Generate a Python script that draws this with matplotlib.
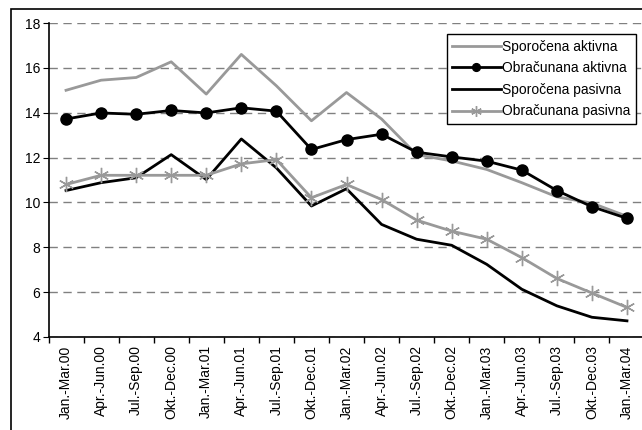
import matplotlib
matplotlib.use("Agg")
import matplotlib.pyplot as plt
from matplotlib.patches import Rectangle

plt.rcParams['font.family'] = ['Liberation Sans', 'DejaVu Sans']

# Quarter labels
quarters = ['Jan.-Mar.00', 'Apr.-Jun.00', 'Jul.-Sep.00', 'Okt.-Dec.00',
            'Jan.-Mar.01', 'Apr.-Jun.01', 'Jul.-Sep.01', 'Okt.-Dec.01',
            'Jan.-Mar.02', 'Apr.-Jun.02', 'Jul.-Sep.02', 'Okt.-Dec.02',
            'Jan.-Mar.03', 'Apr.-Jun.03', 'Jul.-Sep.03', 'Okt.-Dec.03',
            'Jan.-Mar.04']

# Series values
sporocena_aktivna = [15.0, 15.45, 15.57, 16.27, 14.83, 16.6, 15.2, 13.64,
                     14.9, 13.72, 12.13, 11.85, 11.47, 10.88, 10.25, 9.97, 9.38]
obracunana_aktivna = [13.72, 13.99, 13.93, 14.1, 13.99, 14.22, 14.07, 12.36,
                      12.8, 13.04, 12.24, 12.03, 11.84, 11.44, 10.53, 9.81, 9.29]
sporocena_pasivna = [10.53, 10.88, 11.1, 12.13, 11.02, 12.83, 11.54, 9.84,
                     10.61, 9.02, 8.36, 8.09, 7.24, 6.13, 5.39, 4.88, 4.72]
obracunana_pasivna = [10.8, 11.21, 11.21, 11.21, 11.21, 11.72, 11.91, 10.21,
                      10.8, 10.13, 9.21, 8.72, 8.36, 7.54, 6.61, 5.96, 5.32]

x = list(range(len(quarters)))

fig = plt.figure(figsize=(6.42, 4.30), dpi=100)

# outer chart-area border (cropped on right and bottom)
fig.patches.append(Rectangle((11 / 642, -0.1), 1.0, 1.1 - 9 / 430,
                             transform=fig.transFigure, fill=False,
                             edgecolor='black', linewidth=1.2, zorder=0))

ax = fig.add_axes([48.5 / 642, 1 - 337 / 430, 596 / 642, 314 / 430])

gray = '#999999'
ax.plot(x, sporocena_aktivna, color=gray, lw=2, label='Sporočena aktivna', zorder=3)
ax.plot(x, obracunana_aktivna, color='black', lw=2, marker='o', ms=8,
        label='Obračunana aktivna', zorder=4)
ax.plot(x, sporocena_pasivna, color='black', lw=2, label='Sporočena pasivna', zorder=3)
ax.plot(x, obracunana_pasivna, color=gray, lw=2, marker=(6, 2, 0), ms=11, mew=1,
        label='Obračunana pasivna', zorder=3)

ax.set_xlim(-0.5, len(quarters) - 0.5)
ax.set_ylim(4, 18)
ax.set_yticks(range(4, 19, 2))
ax.yaxis.grid(True, color='#808080', linestyle=(0, (6, 4)), linewidth=1)
ax.set_axisbelow(True)

ax.set_xticks(x)
ax.set_xticklabels(quarters, rotation=90, fontsize=10)
ax.tick_params(axis='x', length=0, pad=6)
ax.set_xticks([i - 0.5 for i in range(len(quarters) + 1)], minor=True)
ax.tick_params(axis='x', which='minor', length=4, direction='out', width=1)
ax.tick_params(axis='y', length=4, direction='out', labelsize=10, pad=2)

for side in ['top', 'right']:
    ax.spines[side].set_visible(False)
ax.spines['left'].set_linewidth(1.2)
ax.spines['bottom'].set_linewidth(1.2)

leg = ax.legend(loc='upper right', bbox_to_anchor=((636 - 48.5) / 596, 1 - 11 / 314),
                fontsize=10, frameon=True, fancybox=False, edgecolor='black',
                framealpha=1, handlelength=3.5, handletextpad=0.1,
                labelspacing=0.55, borderpad=0.4, borderaxespad=0,
                markerscale=0.7)
leg.get_frame().set_linewidth(1.0)

fig.savefig('out.png', dpi=100)
